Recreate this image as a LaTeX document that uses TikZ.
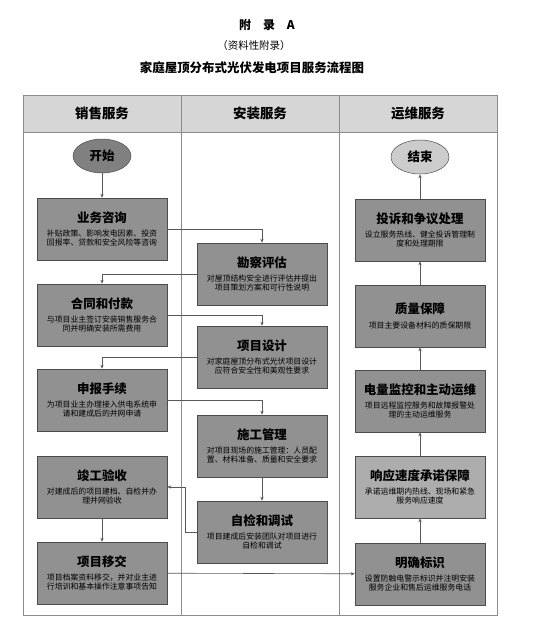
\documentclass[tikz,border=0pt]{standalone}
\usepackage{fontspec}
\setmainfont{Noto Sans CJK SC}
\usetikzlibrary{arrows.meta,shapes.geometric,positioning}
\definecolor{hdrgray}{gray}{0.84}
\definecolor{boxgray}{gray}{0.57}
\definecolor{boxlight}{gray}{0.68}
\definecolor{framegray}{gray}{0.55}
\newcommand{\boxhead}[1]{{\fontsize{12.5}{15}\selectfont\bfseries #1}}

\begin{document}
\begin{tikzpicture}[x=1bp,y=-1bp,
  stepbox/.style={draw=black!70, fill=boxgray, line width=0.5pt,
    minimum width=130bp, minimum height=62bp, inner sep=1pt, align=center,
    font=\fontsize{7.9}{9.4}\selectfont},
  endpoint/.style={ellipse, draw=black!70, line width=0.5pt,
    minimum width=58bp, minimum height=34bp, inner sep=0pt,
    font=\fontsize{12.5}{15}\selectfont\bfseries},
  lanehead/.style={font=\fontsize{13.5}{16}\selectfont\bfseries},
  flow/.style={draw=black!65, line width=0.6pt, -{Stealth[length=4bp,width=3.2bp]}}]
  \useasboundingbox (0,0) rectangle (534,631);

  % titles
  \node[font=\fontsize{12}{14}\selectfont\bfseries] (annex) at (267,25) {附\quad 录\quad A};
  \node[font=\fontsize{10.5}{13}\selectfont] (annexnote) at (254,46) {（资料性附录）};
  \node[font=\fontsize{12.5}{15}\selectfont\bfseries] (caption) at (252,68) {家庭屋顶分布式光伏发电项目服务流程图};

  % swim lanes
  \fill[hdrgray] (23,95) rectangle (497,132);
  \draw[framegray, line width=0.6pt] (23,95) rectangle (497,615);
  \draw[framegray, line width=0.6pt] (23,132) -- (497,132);
  \foreach \x in {181,339}
    \draw[framegray, line width=0.6pt] (\x,95) -- (\x,615);
  \node[lanehead] (sales) at (102,113) {销售服务};
  \node[lanehead] (install) at (260,113) {安装服务};
  \node[lanehead] (oper) at (418,113) {运维服务};

  % sales
  \node[endpoint, fill=black!50] (start) at (102,156) {开始};
  \node[stepbox] (ask) at (102,229) {\boxhead{业务咨询}\\[5pt]补贴政策、影响发电因素、投资\\回报率、贷款和安全风险等咨询};
  \node[stepbox] (contract) at (102,315) {\boxhead{合同和付款}\\[5pt]与项目业主签订安装销售服务合\\同并明确安装所需费用};
  \node[stepbox] (apply) at (102,400) {\boxhead{申报手续}\\[5pt]为项目业主办理接入供电系统申\\请和建成后的并网申请};
  \node[stepbox] (accept) at (102,487) {\boxhead{竣工验收}\\[5pt]对建成后的项目建档、自检并办\\理并网验收};
  \node[stepbox] (handover) at (102,573) {\boxhead{项目移交}\\[5pt]项目档案资料移交，并对业主进\\行培训和基本操作注意事项告知};

  % install
  \node[stepbox] (survey) at (262,274) {\boxhead{勘察评估}\\[5pt]对屋顶结构安全进行评估并提出\\项目策划方案和可行性说明};
  \node[stepbox] (design) at (262,357) {\boxhead{项目设计}\\[5pt]对家庭屋顶分布式光伏项目设计\\应符合安全性和美观性要求};
  \node[stepbox] (build) at (262,446) {\boxhead{施工管理}\\[5pt]对项目现场的施工管理：人员配\\置、材料准备、质量和安全要求};
  \node[stepbox] (test) at (262,532) {\boxhead{自检和调试}\\[5pt]项目建成后安装团队对项目进行\\自检和调试};

  % operation
  \node[endpoint, fill=black!20] (finish) at (420,157) {结束};
  \node[stepbox] (complain) at (420,230) {\boxhead{投诉和争议处理}\\[5pt]设立服务热线、健全投诉管理制\\度和处理期限};
  \node[stepbox] (quality) at (420,316) {\boxhead{质量保障}\\[5pt]项目主要设备材料的质保期限};
  \node[stepbox] (monitor) at (420,401) {\boxhead{电量监控和主动运维}\\[5pt]项目远程监控服务和故障报警处\\理的主动运维服务};
  \node[stepbox, fill=boxlight] (respond) at (420,487) {\boxhead{响应速度承诺保障}\\[5pt]承诺运维期内热线、现场和紧急\\服务响应速度};
  \node[stepbox] (mark) at (420,574) {\boxhead{明确标识}\\[5pt]设置防触电警示标识并注明安装\\服务企业和售后运维服务电话};

  % connectors
  \draw[flow] (start) -- (ask);
  \draw[flow] (ask.east) -| (survey.north);
  \draw[flow] (survey.west) -| (contract.north);
  \draw[flow] (contract.east) -| (design.north);
  \draw[flow] (design.west) -| (apply.north);
  \draw[flow] (apply.east) -| (build.north);
  \draw[flow] (build) -- (test);
  \draw[flow] (test.west) -- ++(-11,0) |- (accept.east);
  \draw[flow] (accept) -- (handover);
  \draw[flow] (handover) -- (mark);
  \draw[flow] (mark) -- (respond);
  \draw[flow] (respond) -- (monitor);
  \draw[flow] (monitor) -- (quality);
  \draw[flow] (quality) -- (complain);
  \draw[flow] (complain) -- (finish);
\end{tikzpicture}
\end{document}
